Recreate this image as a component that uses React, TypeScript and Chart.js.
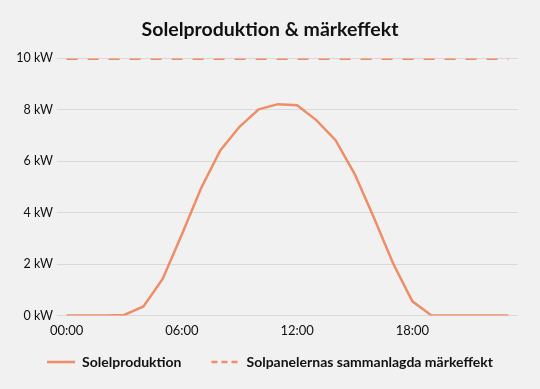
import React, { useEffect, useRef } from "react";
import { Chart, registerables } from "chart.js";

Chart.register(...registerables);

const hours: string[] = [
  "00:00", "01:00", "02:00", "03:00", "04:00", "05:00", "06:00", "07:00",
  "08:00", "09:00", "10:00", "11:00", "12:00", "13:00", "14:00", "15:00",
  "16:00", "17:00", "18:00", "19:00", "20:00", "21:00", "22:00", "23:00",
];
const production: number[] = [
  0, 0, 0, 0.02, 0.35, 1.42, 3.15, 4.95, 6.42, 7.34, 8.02, 8.22,
  8.18, 7.6, 6.82, 5.5, 3.8, 2.02, 0.55, 0, 0, 0, 0, 0,
];
const ratedPower: number[] = hours.map(() => 10);
const seriesNames: string[] = ["Solelproduktion", "Solpanelernas sammanlagda märkeffekt"];
const titleText = "Solelproduktion & märkeffekt";
const yTicks: number[] = [0, 2, 4, 6, 8, 10];
const xTickEvery = 6;

const ORANGE = "#ef8d68";
const BG = "#f1f1f1";
const FONT = "Lato, 'Noto Sans', sans-serif";

// lets the x labels spill below the (shortened) x-axis box instead of being clipped
const labelSpill = {
  id: "labelSpill",
  afterLayout(chart: any) {
    const x = chart.scales.x;
    if (x) x.bottom = x.top + 30;
  },
};

export default function App() {
  const ref = useRef<HTMLCanvasElement>(null);
  useEffect(() => {
    document.body.style.margin = "0";
    document.body.style.background = BG;
    const ctx = ref.current!;
    const chart = new Chart(ctx, {
      type: "line",
      plugins: [labelSpill],
      data: {
        labels: hours,
        datasets: [
          {
            label: seriesNames[0],
            data: production,
            borderColor: ORANGE,
            backgroundColor: ORANGE,
            borderWidth: 2.5,
            pointRadius: 0,
            tension: 0,
          },
          {
            label: seriesNames[1],
            data: ratedPower,
            borderColor: ORANGE,
            backgroundColor: ORANGE,
            borderWidth: 3,
            borderDash: [11, 10],
            pointRadius: 0,
            tension: 0,
          },
        ],
      },
      options: {
        animation: false,
        responsive: false,
        maintainAspectRatio: false,
        layout: { padding: { left: 0, right: 0, top: 10, bottom: 10 } },
        plugins: {
          title: {
            display: true,
            text: titleText,
            color: "#111",
            font: { family: FONT, size: 19.5, weight: "bold" },
            padding: { top: 8, bottom: 17 },
          },
          legend: {
            position: "bottom",
            labels: {
              color: "#111",
              font: { family: FONT, size: 14, weight: "bold" },
              boxWidth: 28,
              boxHeight: 0,
              padding: 30,
              generateLabels: (c: any) =>
                c.data.datasets.map((ds: any, i: number) => ({
                  text: ds.label,
                  fillStyle: ORANGE,
                  strokeStyle: ORANGE,
                  lineWidth: 2.5,
                  lineDash: i === 1 ? [6, 4] : [],
                  hidden: false,
                  datasetIndex: i,
                  fontColor: "#111",
                })),
            },
          },
          tooltip: { enabled: false },
        },
        scales: {
          x: {
            offset: true,
            grid: { display: false, drawTicks: false },
            border: { display: false },
            afterFit: (scale: any) => {
              scale.height = 9.5;
            },
            ticks: {
              autoSkip: false,
              maxRotation: 0,
              color: "#111",
              font: { family: FONT, size: 13 },
              padding: 8,
              callback: (_v: any, i: number) => (i % xTickEvery === 0 ? hours[i] : ""),
            },
          },
          y: {
            min: 0,
            max: 10,
            afterBuildTicks: (axis: any) => {
              axis.ticks = yTicks.map((v) => ({ value: v }));
            },
            afterFit: (scale: any) => {
              scale.width = 57;
            },
            grid: { color: "#d9d9d9", lineWidth: 1, drawTicks: false },
            border: { display: false },
            ticks: {
              color: "#111",
              font: { family: FONT, size: 12.5 },
              padding: 4,
              callback: (v: any) => `${v} kW`,
            },
          },
          yRight: {
            position: "right",
            grid: { display: false, drawTicks: false },
            border: { display: false },
            ticks: { display: false },
            afterFit: (scale: any) => {
              scale.width = 22;
            },
          },
        },
      },
    });
    return () => chart.destroy();
  }, []);
  return (
    <div style={{ width: 540, height: 389, background: BG }}>
      <canvas ref={ref} width={540} height={389} />
    </div>
  );
}
